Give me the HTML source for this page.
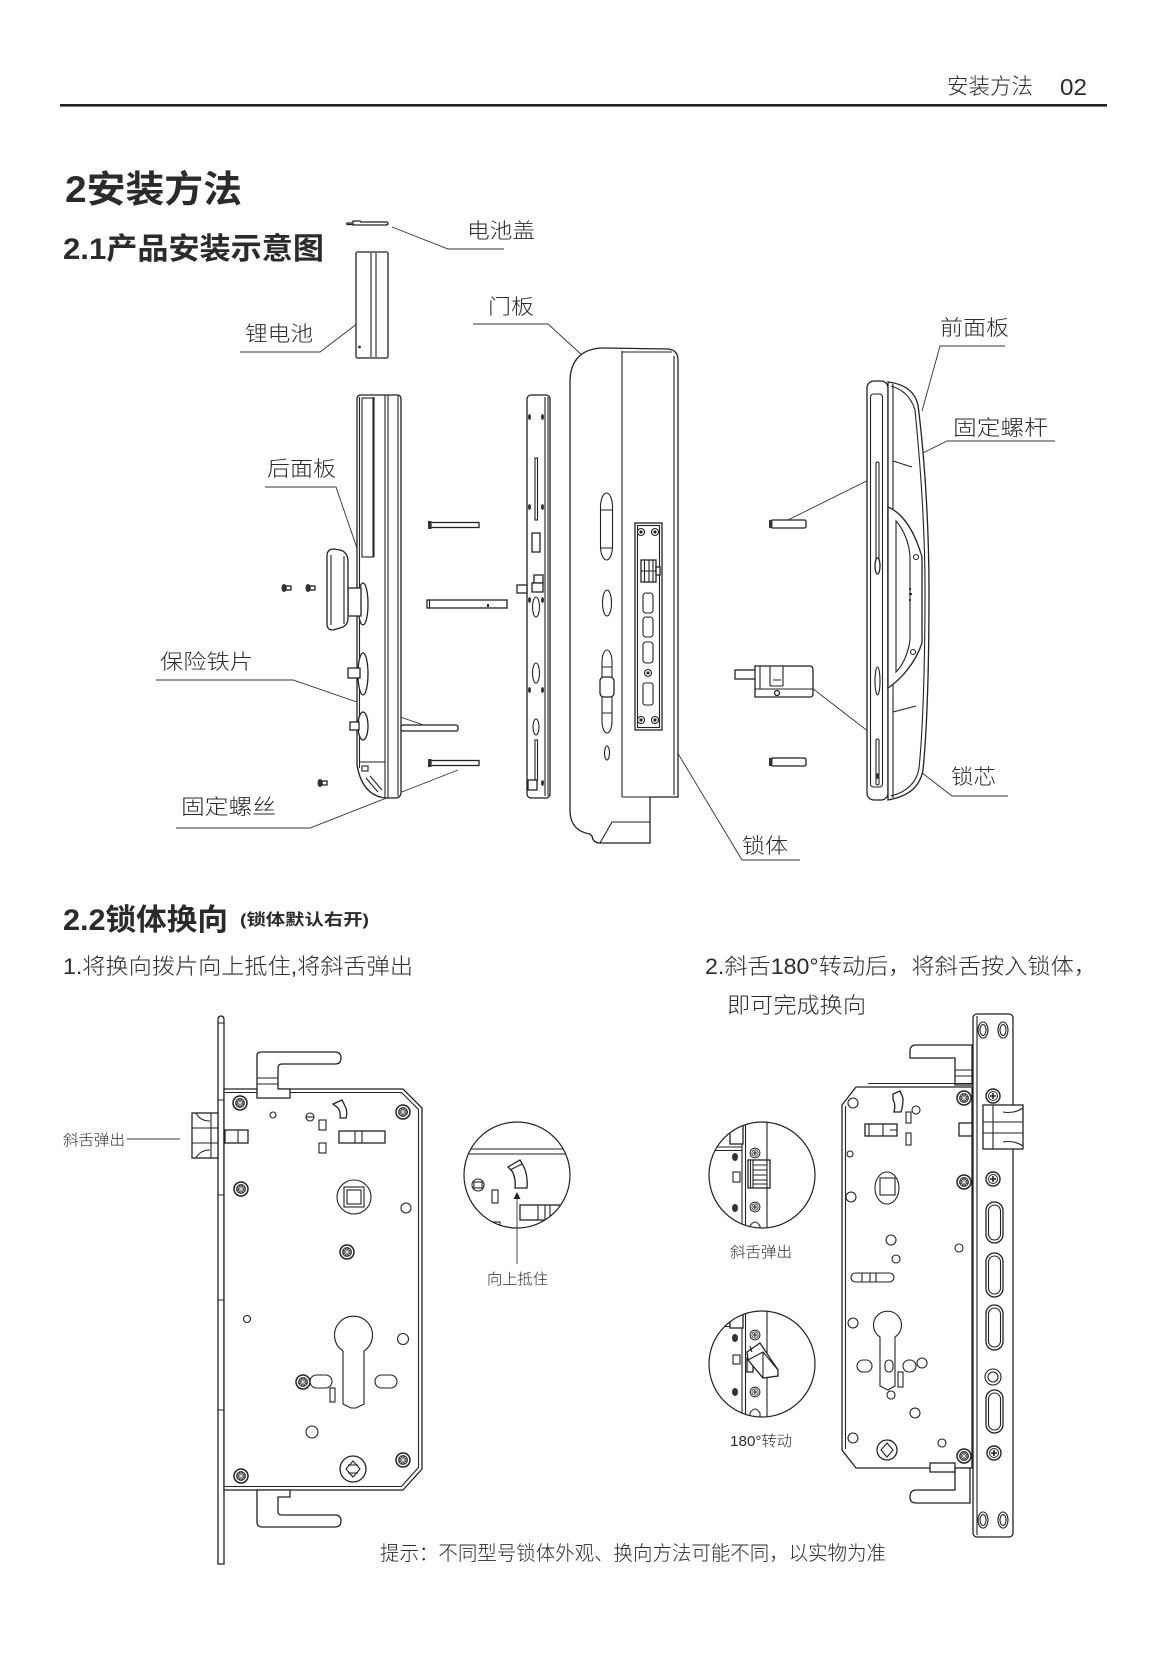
<!DOCTYPE html>
<html><head><meta charset="utf-8">
<style>
html,body{margin:0;padding:0;background:#fff;}
svg{display:block;}
text{font-family:"Liberation Sans","Noto Sans CJK SC",sans-serif;fill:#2b2b2b;}
.w{fill:#fff;stroke:#222;stroke-width:1.3;}
.l{fill:none;stroke:#222;stroke-width:1.1;}
.d{fill:none;stroke:#333;stroke-width:0.9;}
.k{fill:#333;stroke:none;}
</style></head><body>
<svg width="1169" height="1654" viewBox="0 0 1169 1654" xmlns="http://www.w3.org/2000/svg">
<defs>
<g id="s1"><circle r="7" fill="#fff" stroke="#222" stroke-width="1.5"/><circle r="5" fill="#3a3a3a"/><path d="M-3,-3L3,3M3,-3L-3,3M0,-4L0,4M-4,0L4,0" stroke="#ddd" stroke-width="0.8"/></g>
<g id="s2"><circle r="7" fill="#fff" stroke="#222" stroke-width="1.4"/><circle r="4.5" fill="none" stroke="#222" stroke-width="1"/><path d="M-3,0L3,0M0,-3L0,3" stroke="#222" stroke-width="1.6"/></g>
<g id="h2"><circle r="3.5" fill="#fff" stroke="#222" stroke-width="1.1"/><circle r="1.6" fill="#222"/></g>
<clipPath id="c1"><circle cx="517" cy="1175" r="53"/></clipPath>
<clipPath id="c2"><circle cx="762" cy="1175" r="53"/></clipPath>
<clipPath id="c3"><circle cx="762" cy="1364" r="53"/></clipPath>
</defs>

<!-- Header -->
<text x="947" y="94" font-size="22" font-weight="300" textLength="86" lengthAdjust="spacingAndGlyphs">安装方法</text>
<text x="1060" y="95" font-size="23" textLength="27" lengthAdjust="spacingAndGlyphs">02</text>
<rect x="60" y="104" width="1047" height="2.6" fill="#222"/>

<!-- Titles -->
<text x="65" y="202" font-size="37" font-weight="bold" textLength="177" lengthAdjust="spacingAndGlyphs">2安装方法</text>
<text x="63" y="259" font-size="30" font-weight="bold" textLength="261" lengthAdjust="spacingAndGlyphs">2.1产品安装示意图</text>

<!-- Labels 2.1 -->
<g font-size="21" font-weight="300">
<text x="467" y="238" textLength="68" lengthAdjust="spacingAndGlyphs">电池盖</text>
<text x="245" y="341" textLength="68" lengthAdjust="spacingAndGlyphs">锂电池</text>
<text x="488" y="314" textLength="46" lengthAdjust="spacingAndGlyphs">门板</text>
<text x="267" y="476" textLength="69" lengthAdjust="spacingAndGlyphs">后面板</text>
<text x="160" y="669" textLength="93" lengthAdjust="spacingAndGlyphs">保险铁片</text>
<text x="181" y="814" textLength="95" lengthAdjust="spacingAndGlyphs">固定螺丝</text>
<text x="940" y="335" textLength="69" lengthAdjust="spacingAndGlyphs">前面板</text>
<text x="953" y="435" textLength="95" lengthAdjust="spacingAndGlyphs">固定螺杆</text>
<text x="951" y="784" textLength="45" lengthAdjust="spacingAndGlyphs">锁芯</text>
<text x="742" y="853" textLength="46" lengthAdjust="spacingAndGlyphs">锁体</text>
</g>

<!-- Leader lines -->
<g class="d">
<path d="M392,227 L448,249 L504,249"/>
<path d="M362,320 L320,352 L240,352"/>
<path d="M608,379 L548,324 L473,324"/>
<path d="M360,557 L336,487 L265,487"/>
<path d="M438,730 L293,680 L156,680"/>
<path d="M458,770 L310,828 L176,828"/>
<path d="M922,411 L940,346 L1005,346"/>
<path d="M788,520 L947,441 L1055,441"/>
<path d="M812,688 L952,796 L1008,796"/>
<path d="M650,707 L742,860 L800,860"/>
</g>

<!-- Battery cover -->
<path class="w" d="M347,223 L353,223 L353,221 L360,221 L361,222 L386,222 Q388,222 388,223.5 Q388,225 386,225 L353,225 L353,224.5 L347,224.5 Z" stroke-width="1"/>
<!-- Battery -->
<rect class="w" x="356" y="252" width="32" height="106" rx="1.5"/>
<path class="l" d="M371,253 V357 M376,253 V357"/>
<circle cx="359.5" cy="347" r="1.4" class="k"/>

<!-- Rear panel -->
<path class="w" d="M357,399 Q357,395 361,395 L397,395 Q401,395 401,399 L401,792 Q401,798 395,798 L385,798 Q362,795 357,765 Z"/>
<path class="l" d="M359.5,397 L359.5,768 M374,397 L374,557 M385,395 L385,798 M388,395 L388,798 M398,396 L398,796 M360,762 L385,762"/>
<rect class="l" x="362" y="398" width="11" height="159"/>
<rect class="l" x="362" y="766" width="6" height="5"/>
<path class="l" d="M366,778 L378,792 M370,776 L382,790"/>
<!-- handle -->
<ellipse class="w" cx="363" cy="604" rx="5" ry="21"/>
<rect class="w" x="348" y="588" width="13" height="28"/>
<path class="w" d="M334,549 Q327,549 327,556 L327,624 Q327,630 333,630 L340,628 Q348,626 348,618 L348,562 Q348,552 340,550 Z"/>
<path class="l" d="M331,555 V625 M344,556 V624"/>
<ellipse class="w" cx="363" cy="674" rx="5" ry="21"/>
<rect class="w" x="348" y="668" width="12" height="10"/>
<ellipse class="w" cx="363" cy="726" rx="5" ry="14"/>
<rect class="w" x="350" y="722" width="9" height="8"/>
<!-- small screws -->
<g><ellipse cx="284" cy="588" rx="2.5" ry="4" class="k"/><rect class="w" x="286" y="586" width="5" height="4" stroke-width="0.9"/>
<ellipse cx="308" cy="588" rx="2.5" ry="4" class="k"/><rect class="w" x="310" y="586" width="5" height="4" stroke-width="0.9"/>
<ellipse cx="320" cy="783" rx="2.5" ry="4" class="k"/><rect class="w" x="322" y="781" width="5" height="4" stroke-width="0.9"/></g>

<!-- long bolts / bar / plate piece -->
<rect class="w" x="431" y="522.5" width="48" height="5"/><rect x="428" y="521" width="3.5" height="8" class="k"/>
<rect class="w" x="431" y="760.5" width="48" height="5"/><rect x="428" y="759" width="3.5" height="8" class="k"/>
<rect class="w" x="427" y="600" width="80" height="8"/><path class="l" d="M429.5,600 V608"/><rect x="487" y="604" width="2" height="3" class="k"/>
<rect class="w" x="401" y="725" width="57" height="6" rx="2"/>

<!-- Mounting plate -->
<rect class="w" x="527" y="395" width="23" height="403" rx="4"/>
<path class="l" d="M545,397 V796 M548,397 V796"/>
<g class="k">
<ellipse cx="529.5" cy="417" rx="1.5" ry="3"/><ellipse cx="542.5" cy="417" rx="1.5" ry="3"/>
<ellipse cx="529.5" cy="507" rx="1.5" ry="3"/><ellipse cx="542.5" cy="507" rx="1.5" ry="3"/>
<ellipse cx="529.5" cy="600" rx="1.5" ry="3"/><ellipse cx="542.5" cy="600" rx="1.5" ry="3"/>
<ellipse cx="529.5" cy="690" rx="1.5" ry="3"/><ellipse cx="542.5" cy="690" rx="1.5" ry="3"/>
<ellipse cx="529.5" cy="783" rx="1.5" ry="3"/><ellipse cx="542.5" cy="783" rx="1.5" ry="3"/>
</g>
<rect class="l" x="535" y="458" width="2.5" height="62"/>
<rect class="w" x="532" y="533" width="8" height="19" stroke-width="1"/>
<rect class="w" x="534" y="575" width="9" height="8" stroke-width="1"/>
<rect class="w" x="532" y="583" width="11" height="9" stroke-width="1"/>
<rect class="w" x="517" y="585" width="10" height="8" stroke-width="1"/>
<ellipse class="l" cx="536" cy="607" rx="3.5" ry="10"/>
<ellipse class="l" cx="536" cy="673" rx="3.5" ry="10"/>
<ellipse class="l" cx="536" cy="727" rx="3" ry="8"/>
<rect class="l" x="535" y="740" width="2.5" height="40"/>
<rect class="w" x="528" y="780" width="9" height="10" stroke-width="1"/>

<!-- Door panel -->
<path class="w" d="M570,382 C570,360 582,348 604,348 L668,349 Q678,350 678,360 L678,797 L650,797 L650,843 L600,843 Q593,843 592,836 L590,834 Q571,831 570,812 Z"/>
<path class="l" d="M622,351 V797 M622,352 H672 M674,356 V795 M622,797 H678 M600,843 L612,822 L650,822"/>
<rect class="l" x="600.5" y="493" width="12" height="67" rx="6" ry="14"/>
<path class="l" d="M601,510 H612 M601,548 H612"/>
<ellipse class="l" cx="607" cy="603" rx="4.5" ry="13"/>
<rect class="l" x="602" y="650" width="10" height="83" rx="5" ry="12"/>
<rect class="w" x="600" y="677" width="14" height="20" rx="4" stroke-width="1.1"/>
<path class="l" d="M602,667 H612 M602,713 H612"/>
<ellipse class="l" cx="607" cy="753" rx="2.5" ry="7"/>
<rect class="w" x="635" y="523" width="27" height="207"/>
<rect class="l" x="637.5" y="525.5" width="22" height="202"/>
<use href="#h2" x="641" y="532"/><use href="#h2" x="655" y="532"/>
<use href="#h2" x="641" y="720"/><use href="#h2" x="655" y="720"/>
<rect class="w" x="641" y="560" width="15" height="22" stroke-width="1"/>
<path class="l" d="M644.5,560 V582 M649,560 V582 M653,560 V582 M641,571 H660"/>
<rect class="w" x="656" y="567" width="4" height="8" stroke-width="1"/>
<rect class="l" x="643" y="593" width="10" height="20" rx="3"/>
<rect class="l" x="643" y="617" width="10" height="20" rx="3"/>
<rect class="l" x="643" y="642" width="10" height="21" rx="3"/>
<use href="#h2" x="648" y="673"/>
<rect class="l" x="643" y="683" width="10" height="22" rx="2"/>

<!-- Front panel -->
<rect class="w" x="867" y="381" width="21" height="419" rx="7"/>
<rect class="l" x="870.5" y="394" width="12" height="393" rx="3"/>
<path class="w" d="M888,382 C905,384 915,392 918,405 C925,460 929,530 929,590 C929,680 926,740 923,770 C920,786 910,796 888,800 Z"/>
<path class="l" d="M891,386 C905,390 912,400 915,410 C921,470 925,530 925,590 C925,680 922,740 919,768 C917,782 907,792 891,796"/>
<path class="l" d="M893,384 V798 M893,461 L912,467 M893,712 L916,706"/>
<path class="w" d="M888,507 C900,512 913,526 922,557 L922,643 C915,664 900,680 888,688 Z"/>
<path class="l" d="M896,521 C904,530 909,543 910,556 L910,640 C908,655 902,666 896,672 Z"/>
<circle class="l" cx="916" cy="557" r="2.5"/><circle class="l" cx="913" cy="652" r="2.5"/>
<rect x="909" y="588" width="2" height="2" class="k"/><rect x="909" y="593" width="3" height="2" class="k"/><rect x="909" y="599" width="2" height="2" class="k"/>
<rect class="l" x="876" y="462" width="3" height="110" rx="1.5"/>
<ellipse class="w" cx="877.5" cy="566" rx="2.5" ry="8" stroke-width="1"/>
<ellipse class="l" cx="877.5" cy="681" rx="2.5" ry="14"/>
<rect class="l" x="876" y="739" width="3" height="46" rx="1.5"/>
<ellipse cx="877.5" cy="776" rx="1.5" ry="3" class="k"/>

<!-- short bolts -->
<rect class="w" x="771" y="520" width="35" height="8" rx="1.5"/><rect x="769" y="520" width="3.5" height="8" class="k"/>
<rect class="w" x="771" y="758" width="35" height="8" rx="1.5"/><rect x="769" y="758" width="3.5" height="8" class="k"/>

<!-- lock cylinder -->
<rect class="w" x="735" y="670" width="21" height="9"/>
<path class="w" d="M755,666 L810,666 Q813,666 813,670 L813,694 Q813,697 810,697 L755,697 Z"/>
<path class="l" d="M755,689 H813 M760,666 V689 M770,666 V686 M783,666 V686 M770,686 H783 M773,680 H781"/>
<circle class="w" cx="777" cy="693" r="2.5" stroke-width="1"/>

<!-- Section 2.2 -->
<text x="63" y="930" font-size="30" font-weight="bold" textLength="165" lengthAdjust="spacingAndGlyphs">2.2锁体换向</text>
<text x="240" y="925" font-size="16" font-weight="bold" textLength="129" lengthAdjust="spacingAndGlyphs">(锁体默认右开)</text>
<g font-size="22" font-weight="300">
<text x="63" y="974" textLength="350" lengthAdjust="spacingAndGlyphs">1.将换向拨片向上抵住,将斜舌弹出</text>
<text x="705" y="974" textLength="392" lengthAdjust="spacingAndGlyphs">2.斜舌180°转动后，将斜舌按入锁体，</text>
<text x="727" y="1013" textLength="139" lengthAdjust="spacingAndGlyphs">即可完成换向</text>
</g>
<g font-size="15" font-weight="300">
<text x="63" y="1145" textLength="62" lengthAdjust="spacingAndGlyphs">斜舌弹出</text>
<text x="487" y="1284" textLength="61" lengthAdjust="spacingAndGlyphs">向上抵住</text>
<text x="730" y="1257" textLength="62" lengthAdjust="spacingAndGlyphs">斜舌弹出</text>
<text x="730" y="1446" textLength="62" lengthAdjust="spacingAndGlyphs">180°转动</text>
</g>
<path class="d" d="M127,1139 H180"/>
<text x="380" y="1560" font-size="20" font-weight="300" textLength="506" lengthAdjust="spacingAndGlyphs">提示：不同型号锁体外观、换向方法可能不同，以实物为准</text>

<!-- Left lock body -->
<path class="w" d="M218,1020 Q218,1016 221,1016 Q224,1016 224,1020 L224,1564 L218,1564 Z"/>
<path class="l" d="M218,1023 H224 M218,1100 H224 M218,1195 H224 M218,1300 H224 M218,1410 H224"/>
<path class="w" d="M224,1089 L403,1089 L422,1108 L422,1469 L403,1490 L224,1490 Z"/>
<path class="l" d="M224,1092.5 L401.5,1092.5 L418.5,1109.5 L418.5,1467.5 L401.5,1486.5 L224,1486.5"/>
<!-- levers -->
<path class="w" d="M257,1098 L257,1055 Q257,1052 262,1052 L335,1052 Q341,1052 341,1058 Q341,1064 335,1064 L282,1064 Q278,1064 278,1068 L278,1089 L290,1089 L290,1098 Z"/>
<path class="l" d="M257,1078 H278 M257,1084 H278"/>
<path class="w" d="M257,1490 L290,1490 L290,1497 L278,1497 L278,1512 Q278,1515 282,1515 L335,1515 Q341,1515 341,1521 Q341,1527 335,1527 L262,1527 Q257,1527 257,1522 Z"/>
<!-- latch -->
<rect class="w" x="192" y="1113" width="26" height="45"/>
<path class="l" d="M192,1128 H218 M192,1143 H218 M211,1113 V1158 M196,1113 Q200,1121 210,1121 M196,1158 Q200,1150 210,1150"/>
<rect class="w" x="225" y="1130" width="23" height="13" stroke-width="1.1"/>
<path class="l" d="M238,1130 V1143"/>
<!-- features -->
<use href="#s1" x="240" y="1103"/><use href="#s1" x="403" y="1112"/><use href="#s1" x="241" y="1189"/>
<use href="#s1" x="347" y="1252"/><use href="#s1" x="303" y="1382"/><use href="#s1" x="403" y="1460"/><use href="#s1" x="241" y="1476"/>
<circle class="l" cx="273" cy="1115" r="3"/>
<circle class="l" cx="310" cy="1117" r="4"/><path class="l" d="M306,1117 H314"/>
<rect class="l" x="319" y="1120" width="7" height="10"/>
<rect class="l" x="319" y="1143" width="7" height="10"/>
<path class="w" d="M333,1104 L342,1100 L345,1106 Q348,1112 346,1118 L340,1118 Q341,1112 338,1108 Z" stroke-width="1"/>
<rect class="w" x="339" y="1131" width="46" height="12" stroke-width="1.1"/>
<path class="l" d="M355,1131 V1143 M362,1131 V1143"/>
<circle class="l" cx="354" cy="1197" r="17"/>
<rect class="l" x="344" y="1187" width="20" height="20"/>
<rect class="l" x="347" y="1190" width="14" height="14"/>
<circle class="l" cx="406" cy="1208" r="5"/>
<circle class="l" cx="247" cy="1319" r="3.5"/>
<circle class="l" cx="403" cy="1339" r="5.5"/>
<path class="l" d="M343,1351 A19,19 0 1 1 364,1351 L364,1404 L356,1408 L351,1408 L343,1404 Z"/>
<rect class="l" x="310" y="1375" width="22" height="13" rx="6.5"/>
<rect class="l" x="375" y="1375" width="22" height="13" rx="6.5"/>
<rect class="l" x="330" y="1388" width="5" height="14"/>
<circle class="l" cx="312" cy="1432" r="6"/>
<circle class="w" cx="353" cy="1469" r="13"/>
<path class="l" d="M353,1461 L360,1469 L353,1477 L346,1469 Z M348,1465 H358 M348,1473 H358"/>

<!-- zoom circle left -->
<g clip-path="url(#c1)">
<path class="l" d="M455,1149 H580 M455,1154 H580"/>
<path class="w" d="M508,1167 L520,1160 L524,1167 Q528,1176 527,1188 L515,1188 Q516,1178 512,1171 Z" stroke-width="1.1"/>
<path class="l" d="M510,1170 L522,1164"/>
<circle class="l" cx="478" cy="1185" r="6"/><rect class="l" x="474" y="1182" width="8" height="6"/>
<rect class="l" x="492" y="1190" width="6" height="13"/>
<rect class="w" x="520" y="1205" width="55" height="15" stroke-width="1.1"/>
<path class="l" d="M538,1205 V1220 M545,1205 V1220 M550,1205 V1220"/>
<rect class="l" x="492" y="1222" width="8" height="8"/>
</g>
<circle cx="517" cy="1175" r="53" fill="none" stroke="#222" stroke-width="1.2"/>
<path d="M517,1192 L513.5,1199 L520.5,1199 Z" fill="#222"/>
<path class="d" d="M517,1199 V1264"/>

<!-- zoom circle right 1 -->
<g clip-path="url(#c2)">
<path class="l" d="M742,1110 V1240 M745.5,1110 V1240 M767,1110 V1240"/>
<path class="l" d="M700,1147 H742 M700,1150.5 H742"/>
<rect class="w" x="730" y="1122" width="13" height="22" stroke-width="1.1"/>
<rect class="w" x="748" y="1160" width="22" height="28" stroke-width="1.2"/>
<path class="l" d="M750.5,1160 V1188 M753,1160 V1188 M767,1160 V1188 M753,1165 H767 M753,1170 H767 M753,1175 H767 M753,1180 H767 M753,1184 H767"/>
<use href="#s2" transform="translate(755,1153) scale(0.7)"/>
<use href="#s2" transform="translate(755,1207) scale(0.7)"/>
<ellipse cx="735" cy="1157" rx="3" ry="4" class="k"/><ellipse cx="735" cy="1208" rx="3" ry="4" class="k"/>
<rect class="l" x="733" y="1172" width="7" height="10"/>
<path class="l" d="M750,1232 V1226 Q755,1218 760,1226 V1232"/>
</g>
<circle cx="762" cy="1175" r="53" fill="none" stroke="#222" stroke-width="1.2"/>

<!-- zoom circle right 2 -->
<g clip-path="url(#c3)">
<path class="l" d="M742,1300 V1430 M745.5,1300 V1430 M767,1300 V1430"/>
<path class="l" d="M700,1323 H742 M700,1326.5 H742"/>
<rect class="w" x="730" y="1312" width="13" height="16" stroke-width="1.1"/>
<use href="#s2" transform="translate(755,1335) scale(0.7)"/>
<use href="#s2" transform="translate(755,1392) scale(0.7)"/>
<ellipse cx="735" cy="1338" rx="3" ry="4" class="k"/><ellipse cx="735" cy="1392" rx="3" ry="4" class="k"/>
<rect class="l" x="733" y="1355" width="7" height="9"/>
<rect class="w" x="747" y="1358" width="6" height="14" stroke-width="1"/>
<path class="w" d="M747,1352 L760,1343 L778,1370 L778,1376 L763,1378 L748,1360 Z" stroke-width="1.2"/>
<path class="l" d="M748,1360 L763,1352 L778,1370 M763,1352 L763,1378 M750,1346 L752,1352"/>
<path class="l" d="M750,1420 V1413 Q755,1405 760,1413 V1420"/>
</g>
<circle cx="762" cy="1364" r="53" fill="none" stroke="#222" stroke-width="1.2"/>

<!-- Right lock body -->
<path class="w" d="M910,1058 L910,1051 Q910,1045 916,1045 L972,1045 L972,1085 L955,1085 L955,1058 Z"/>
<path class="l" d="M955,1070 H972 M955,1076 H972"/>
<path class="w" d="M842,1105 L856,1087 L972,1087 L972,1468 L856,1468 L842,1450 Z"/>
<path class="l" d="M868,1083.5 H972 M845.5,1106 V1449"/>
<rect class="w" x="930" y="1463" width="25" height="9" stroke-width="1.1"/>
<path class="w" d="M955,1468 L970,1468 L970,1503 L916,1503 Q910,1503 910,1497 Q910,1490 916,1490 L955,1490 Z"/>
<!-- faceplate -->
<rect class="w" x="973" y="1014" width="40" height="523" rx="4"/>
<path class="l" d="M977,1016 V1535"/>
<g>
<ellipse class="l" cx="983" cy="1030" rx="5" ry="8"/><ellipse class="l" cx="983" cy="1030" rx="3" ry="5.5"/>
<ellipse class="l" cx="1003" cy="1030" rx="5" ry="8"/><ellipse class="l" cx="1003" cy="1030" rx="3" ry="5.5"/>
<ellipse class="l" cx="983" cy="1520" rx="5" ry="8"/><ellipse class="l" cx="983" cy="1520" rx="3" ry="5.5"/>
<ellipse class="l" cx="1003" cy="1520" rx="5" ry="8"/><ellipse class="l" cx="1003" cy="1520" rx="3" ry="5.5"/>
</g>
<rect class="w" x="983" y="1105" width="40" height="44" stroke-width="1.4"/>
<path class="l" d="M993,1105 V1149 M983,1122 H1023 M983,1133 H1023 M1023,1108 Q1014,1114 1003,1112 M1023,1146 Q1014,1140 1003,1142"/>
<use href="#s2" x="993" y="1096"/><use href="#s2" x="993" y="1179"/><use href="#s2" x="994" y="1453"/>
<rect class="w" x="986" y="1202" width="17" height="41" rx="8.5" stroke-width="1.3"/><rect class="l" x="988.5" y="1205" width="12" height="35" rx="6"/>
<rect class="w" x="986" y="1253" width="17" height="44" rx="8.5" stroke-width="1.3"/><rect class="l" x="988.5" y="1256" width="12" height="38" rx="6"/>
<rect class="w" x="986" y="1305" width="17" height="45" rx="8.5" stroke-width="1.3"/><rect class="l" x="988.5" y="1308" width="12" height="39" rx="6"/>
<rect class="w" x="986" y="1390" width="17" height="43" rx="8.5" stroke-width="1.3"/><rect class="l" x="988.5" y="1393" width="12" height="37" rx="6"/>
<circle class="l" cx="993" cy="1377" r="8"/><circle class="l" cx="993" cy="1377" r="5"/>
<!-- body features -->
<use href="#s1" x="964" y="1098"/><use href="#s1" x="964" y="1182"/><use href="#s1" x="964" y="1456"/>
<circle class="l" cx="853" cy="1103" r="5"/>
<path class="w" d="M893,1094 L900,1091 L903,1098 Q903,1106 901,1112 L894,1112 Q896,1104 893,1100 Z" stroke-width="1"/>
<circle class="l" cx="916" cy="1110" r="4"/>
<rect class="l" x="906" y="1112" width="5" height="11"/>
<rect class="l" x="906" y="1133" width="5" height="12"/>
<rect class="w" x="865" y="1124" width="32" height="12" stroke-width="1.1"/>
<path class="l" d="M869,1124 V1136 M883,1124 V1136 M890,1130 H897"/>
<rect class="w" x="959" y="1123" width="13" height="13" stroke-width="1"/>
<circle class="l" cx="850" cy="1154" r="3"/>
<ellipse class="l" cx="887" cy="1188" rx="12" ry="16"/>
<rect class="l" x="880" y="1178" width="15" height="17"/>
<circle class="l" cx="851" cy="1197" r="5"/>
<circle class="l" cx="891" cy="1240" r="5"/><circle class="l" cx="896" cy="1259" r="4"/><circle class="l" cx="959" cy="1248" r="4"/>
<rect class="l" x="851" y="1273" width="43" height="9" rx="4.5"/>
<path class="l" d="M862,1273 V1282 M870,1273 V1282 M876,1273 V1282"/>
<circle class="l" cx="853" cy="1323" r="5"/>
<path class="l" d="M880,1337 A14,14 0 1 1 895,1337 L895,1386 L888,1390 L880,1386 Z"/>
<rect class="l" x="857" y="1360" width="15" height="12" rx="6"/>
<rect class="l" x="885" y="1360" width="8" height="12" rx="4"/>
<rect class="l" x="903" y="1360" width="13" height="12" rx="6"/>
<circle class="l" cx="922" cy="1363" r="5"/>
<rect class="l" x="898" y="1372" width="5" height="15"/>
<circle class="l" cx="891" cy="1395" r="4"/>
<circle class="l" cx="915" cy="1413" r="5"/>
<circle class="l" cx="853" cy="1438" r="5"/>
<circle class="l" cx="942" cy="1443" r="4"/>
<circle class="w" cx="887" cy="1450" r="10"/>
<path class="l" d="M887,1443 L893,1450 L887,1457 L881,1450 Z"/>
</svg>
</body></html>
